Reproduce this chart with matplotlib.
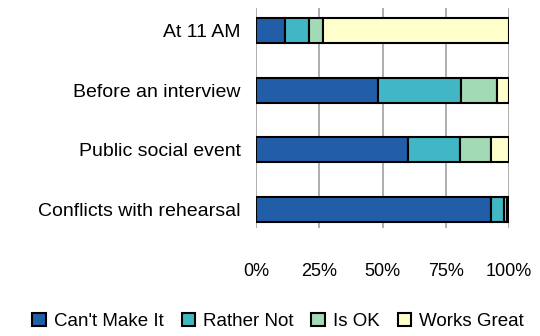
import matplotlib
matplotlib.use("Agg")
import matplotlib.pyplot as plt
import numpy as np

categories = ["At 11 AM", "Before an interview", "Public social event", "Conflicts with rehearsal"]
series_names = ["Can't Make It", "Rather Not", "Is OK", "Works Great"]
cant_make_it = [11.5, 48, 60, 93]
rather_not = [9.5, 33, 20.5, 5]
is_ok = [5.5, 14, 12.5, 1]
works_great = [73.5, 5, 7, 1]
tick_labels = ["0%", "25%", "50%", "75%", "100%"]
tick_values = [0, 25, 50, 75, 100]
colors = ["#225EA8", "#41B6C4", "#A1DAB4", "#FFFFCC"]

plt.rcParams['font.family'] = ['Liberation Sans', 'DejaVu Sans']

fig = plt.figure(figsize=(5.4, 3.36), dpi=100)
ax = fig.add_axes([0.474, 0.321, 0.469, 0.655])

y = np.arange(len(categories))
left = np.zeros(len(categories))
handles = []
for name, vals, c in zip(series_names, [cant_make_it, rather_not, is_ok, works_great], colors):
    vals = np.array(vals, dtype=float)
    b = ax.barh(y, vals, left=left, height=0.42, color=c, edgecolor='black', linewidth=1.5, label=name, zorder=3)
    handles.append(b)
    left += vals

ax.set_xlim(0, 100)
ax.set_ylim(3.32, -0.38)
ax.set_yticks(y)
ax.set_yticklabels(categories, fontsize=14)
ax.set_xticks(tick_values)
ax.set_xticklabels(tick_labels, fontsize=13)
ax.tick_params(axis='y', length=0, pad=11)
ax.tick_params(axis='x', length=0, pad=25)
for s in ax.spines.values():
    s.set_visible(False)
ax.xaxis.grid(True, color='#a8a8a8', linewidth=1.3, zorder=0)
ax.set_axisbelow(True)

fig.legend(handles=handles, labels=series_names, loc='center', bbox_to_anchor=(0.515, 0.043),
           ncol=4, frameon=False, fontsize=13.5, handlelength=0.7, handleheight=0.7,
           handletextpad=0.45, columnspacing=0.95, borderaxespad=0)

fig.savefig("out.png", dpi=100)
